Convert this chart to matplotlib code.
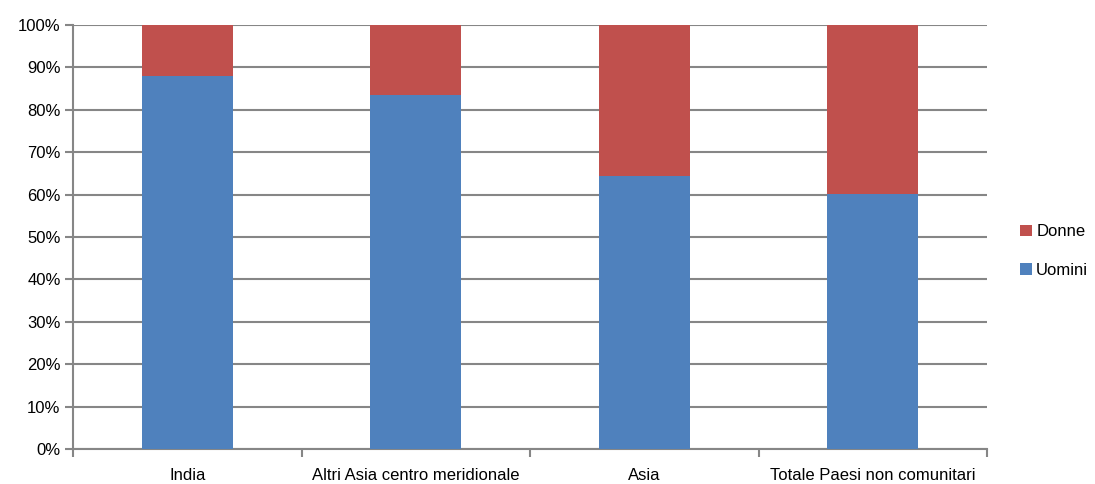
import matplotlib
matplotlib.use("Agg")
import matplotlib.pyplot as plt
import numpy as np
from matplotlib.ticker import FixedLocator, PercentFormatter

plt.rcParams["font.family"] = ["Liberation Sans", "DejaVu Sans"]

categories = ["India", "Altri Asia centro meridionale", "Asia", "Totale Paesi non comunitari"]
uomini = [88.0, 83.6, 64.5, 60.2]
donne = [100 - v for v in uomini]

blue = "#4F81BD"
red = "#C0504D"
gridColor = "#868686"
fs = 12

fig = plt.figure(figsize=(10.95, 4.84), dpi=100)
ax = fig.add_axes([0.0667, 0.0723, 0.8347, 0.8760])

x = np.arange(len(categories))
width = 0.4
bU = ax.bar(x, uomini, width, color=blue, label="Uomini", zorder=3)
bD = ax.bar(x, donne, width, bottom=uomini, color=red, label="Donne", zorder=3)

ax.set_xlim(-0.5, len(categories) - 0.5)
ax.set_ylim(0, 100)
ax.set_yticks(np.arange(0, 101, 10))
ax.yaxis.set_major_formatter(PercentFormatter(decimals=0))
ax.yaxis.grid(True, color=gridColor, lw=1.5, zorder=0)

ax.set_xticks(x)
ax.set_xticklabels(categories)
ax.xaxis.set_minor_locator(FixedLocator(np.arange(-0.5, len(categories), 1.0)))
ax.tick_params(axis="x", which="major", length=0, pad=14, labelsize=fs)
ax.tick_params(axis="x", which="minor", length=6, width=1.5, color=gridColor, direction="out")
ax.tick_params(axis="y", length=6, width=1.5, color=gridColor, labelsize=fs, pad=3)

for s in ["top", "right"]:
    ax.spines[s].set_visible(False)
for s in ["left", "bottom"]:
    ax.spines[s].set_color(gridColor)
    ax.spines[s].set_linewidth(1.5)

ax.legend([bD, bU], ["Donne", "Uomini"], loc="center left", bbox_to_anchor=(1.02, 0.467),
          frameon=False, fontsize=fs, handlelength=0.7, handleheight=0.7,
          handletextpad=0.25, labelspacing=1.4)

fig.savefig("out.png", dpi=100)
